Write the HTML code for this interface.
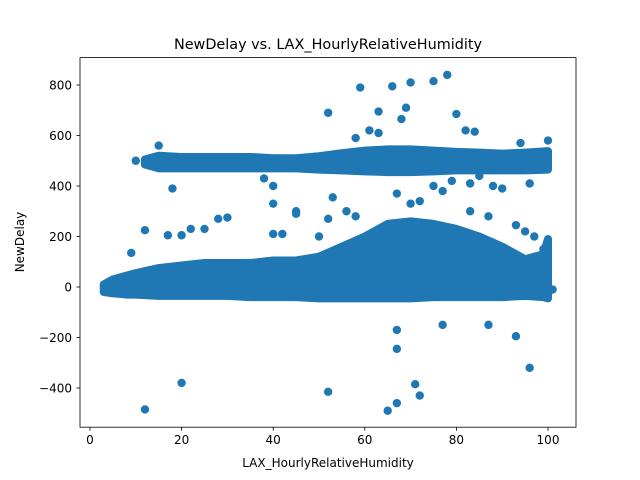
<!DOCTYPE html>
<html><head><meta charset="utf-8"><style>
body{margin:0;background:#fff;}
svg{display:block;font-family:"DejaVu Sans","Liberation Sans",sans-serif;}
</style></head><body>
<svg id="chart" width="640" height="480">
<text x="328" y="49" font-size="14.4" text-anchor="middle">NewDelay vs. LAX_HourlyRelativeHumidity</text>
<g id="bands"></g>
<g id="points"></g>
<rect x="80" y="57.6" width="496" height="369.6" fill="none" stroke="#000" stroke-width="0.8"/>
<g id="xticks"></g>
<g id="yticks"></g>
<text x="328" y="467" font-size="12" text-anchor="middle">LAX_HourlyRelativeHumidity</text>
<text transform="translate(24,242) rotate(-90)" font-size="12" text-anchor="middle">NewDelay</text>
</svg>
<script>
const bandHumidity=[3,5,8,10,15,20,25,30,35,40,45,50,55,60,65,70,75,80,85,90,95,99,100];
const lowMin=[-20,-25,-30,-30,-35,-35,-35,-35,-40,-40,-40,-45,-45,-45,-45,-45,-40,-40,-40,-40,-35,-40,-45];
const lowMax=[10,30,45,55,75,85,95,95,95,105,105,120,160,200,250,260,250,230,200,160,110,130,190];
const highHumidity=[12,15,20,25,30,35,40,45,50,55,60,65,70,75,80,85,90,95,100];
const highMin=[485,470,470,470,470,470,470,470,465,462,458,455,455,458,462,462,462,462,465];
const highMax=[505,520,515,515,515,515,510,510,518,530,540,545,545,540,535,532,528,532,538];
const outX=[12,20,52,65,67,67,67,71,72,77,87,93,96,59,66,70,75,78,52,63,69,80,61,63,68,58,15,40,40,18,10,12,82,84,94,100,38,96,30,28,25,22,17,20,12,53,45,45,40,42,50,56,58,52,67,70,72,75,77,79,83,85,88,90,83,87,93,97,95,99,9,101];
const outY=[-485,-380,-415,-490,-460,-245,-170,-385,-430,-150,-150,-195,-320,790,795,810,815,840,690,695,710,685,620,610,665,590,560,400,330,390,500,500,620,615,570,580,430,410,275,270,230,230,205,205,225,355,290,300,210,210,200,300,280,270,370,330,340,400,380,420,410,440,400,390,300,280,245,200,220,150,135,-10];
const xTickVals=[0,20,40,60,80,100];
const yTickVals=[-400,-200,0,200,400,600,800];
const NS="http://www.w3.org/2000/svg";
const X=v=>90+v*4.58;
const Y=v=>287-v*0.2525;
const C="#1f77b4";
function band(hs,mins,maxs,name){
  let pts=[];
  for(let i=0;i<hs.length;i++)pts.push(X(hs[i])+","+Y(maxs[i]));
  for(let i=hs.length-1;i>=0;i--)pts.push(X(hs[i])+","+Y(mins[i]));
  const p=document.createElementNS(NS,"polygon");
  p.setAttribute("points",pts.join(" "));
  p.setAttribute("fill",C);p.setAttribute("stroke",C);
  p.setAttribute("stroke-width","8");p.setAttribute("stroke-linejoin","round");
  
  
  document.getElementById("bands").appendChild(p);
}
band(bandHumidity,lowMin,lowMax,"low-delay-band");
band(highHumidity,highMin,highMax,"high-delay-band");
for(let i=0;i<outX.length;i++){
  const c=document.createElementNS(NS,"circle");
  c.setAttribute("cx",X(outX[i]));c.setAttribute("cy",Y(outY[i]));
  c.setAttribute("r","4.2");c.setAttribute("fill",C);
  
  
  document.getElementById("points").appendChild(c);
}
const xg=document.getElementById("xticks");
xTickVals.forEach(v=>{
  const l=document.createElementNS(NS,"line");
  l.setAttribute("x1",X(v));l.setAttribute("x2",X(v));l.setAttribute("y1",427.2);l.setAttribute("y2",430.7);
  l.setAttribute("stroke","#000");l.setAttribute("stroke-width","0.8");
  
  
  xg.appendChild(l);
  const t=document.createElementNS(NS,"text");
  t.setAttribute("x",X(v));t.setAttribute("y",444);t.setAttribute("font-size","12");t.setAttribute("text-anchor","middle");
  t.textContent=v;
  
  
  xg.appendChild(t);
});
const yg=document.getElementById("yticks");
yTickVals.forEach(v=>{
  const l=document.createElementNS(NS,"line");
  l.setAttribute("x1",76.5);l.setAttribute("x2",80);l.setAttribute("y1",Y(v));l.setAttribute("y2",Y(v));
  l.setAttribute("stroke","#000");l.setAttribute("stroke-width","0.8");
  
  
  yg.appendChild(l);
  const t=document.createElementNS(NS,"text");
  t.setAttribute("x",72);t.setAttribute("y",Y(v)+4.5);t.setAttribute("font-size","12");t.setAttribute("text-anchor","end");
  t.textContent=v<0?"\u2212"+(-v):v;
  
  
  yg.appendChild(t);
});
</script>
</body></html>
